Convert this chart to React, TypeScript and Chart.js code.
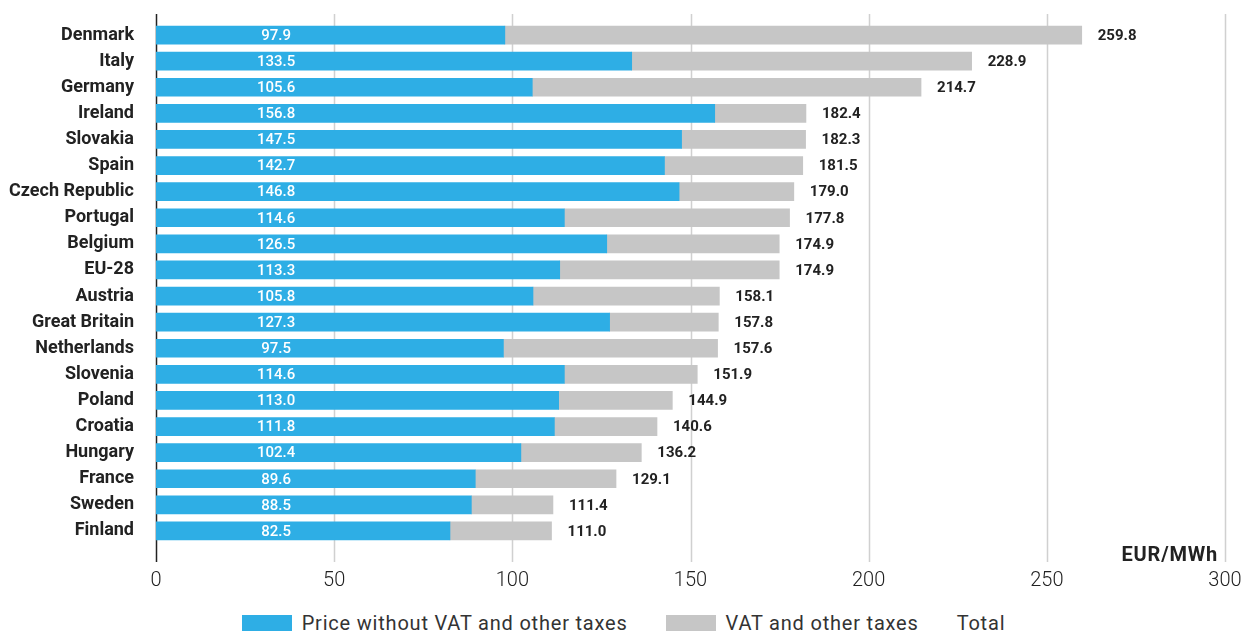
import React, { useEffect, useRef } from "react";
import { Chart, registerables } from "chart.js";

Chart.register(...registerables);

const countries = [
  "Denmark", "Italy", "Germany", "Ireland", "Slovakia", "Spain", "Czech Republic", "Portugal",
  "Belgium", "EU-28", "Austria", "Great Britain", "Netherlands", "Slovenia", "Poland", "Croatia",
  "Hungary", "France", "Sweden", "Finland",
];
const basePrice = [97.9, 133.5, 105.6, 156.8, 147.5, 142.7, 146.8, 114.6, 126.5, 113.3, 105.8, 127.3, 97.5, 114.6, 113.0, 111.8, 102.4, 89.6, 88.5, 82.5];
const totalPrice = [259.8, 228.9, 214.7, 182.4, 182.3, 181.5, 179.0, 177.8, 174.9, 174.9, 158.1, 157.8, 157.6, 151.9, 144.9, 140.6, 136.2, 129.1, 111.4, 111.0];
const taxes = totalPrice.map((t, i) => Math.round((t - basePrice[i]) * 10) / 10);
const xTicks = [0, 50, 100, 150, 200, 250, 300];
const seriesNames = ["Price without VAT and other taxes", "VAT and other taxes", "Total"];
const unitLabel = "EUR/MWh";

const BLUE = "#2eaee5";
const GRAY = "#c6c6c6";
const FONT = "Roboto, 'Noto Sans', sans-serif";

const decorPlugin = {
  id: "decor",
  beforeDatasetsDraw(chart: any) {
    const { ctx, chartArea, scales } = chart;
    const x = scales.x;
    const top = chartArea.top - 8;
    const bottom = chartArea.bottom + 18;
    ctx.save();
    xTicks.forEach((v) => {
      const px = Math.round(x.getPixelForValue(v)) + 0.5;
      ctx.beginPath();
      ctx.strokeStyle = v === 0 ? "#222222" : "#d0d0d0";
      ctx.lineWidth = 1.5;
      ctx.moveTo(px, top);
      ctx.lineTo(px, bottom);
      ctx.stroke();
    });
    ctx.restore();
  },
  afterDatasetsDraw(chart: any) {
    const { ctx, chartArea, scales } = chart;
    const x = scales.x;
    const y = scales.y;
    ctx.save();
    ctx.textBaseline = "middle";
    countries.forEach((_, i) => {
      const py = y.getPixelForValue(i);
      ctx.fillStyle = "#ffffff";
      ctx.font = `500 15px ${FONT}`;
      ctx.textAlign = "center";
      ctx.fillText(basePrice[i].toFixed(1), x.getPixelForValue(33.7), py + 1);
      ctx.fillStyle = "#222222";
      ctx.font = `bold 15px ${FONT}`;
      ctx.textAlign = "left";
      ctx.fillText(totalPrice[i].toFixed(1), x.getPixelForValue(totalPrice[i]) + 16, py + 1);
    });
    ctx.fillStyle = "#222222";
    ctx.font = `bold 20px ${FONT}`;
    (ctx as any).letterSpacing = "0.8px";
    ctx.textAlign = "right";
    ctx.fillText(unitLabel, chartArea.right - 7, chartArea.bottom + 12);
    ctx.restore();
  },
};

export default function App() {
  const ref = useRef<HTMLCanvasElement | null>(null);
  useEffect(() => {
    if (!ref.current) return;
    const chart = new Chart(ref.current, {
      type: "bar",
      data: {
        labels: countries,
        datasets: [
          { label: seriesNames[0], data: basePrice, backgroundColor: BLUE, barThickness: 18, stack: "s" },
          { label: seriesNames[1], data: taxes, backgroundColor: GRAY, barThickness: 18, stack: "s" },
        ],
      },
      options: {
        indexAxis: "y",
        animation: false,
        responsive: false,
        maintainAspectRatio: false,
        layout: { padding: { top: 22, right: 22, left: 0, bottom: 0 } },
        plugins: { legend: { display: false }, tooltip: { enabled: false } },
        scales: {
          x: {
            type: "linear",
            min: 0,
            max: 300,
            stacked: true,
            afterBuildTicks: (s: any) => { s.ticks = xTicks.map((v) => ({ value: v })); },
            afterFit: (s: any) => { s.height = 56; s.paddingLeft = 0; s.paddingRight = 0; s.paddingTop = 0; s.paddingBottom = 0; },
            grid: { display: false, drawTicks: false },
            border: { display: false },
            ticks: { color: "#222222", font: { family: FONT, size: 20, weight: "300" }, padding: 25, maxRotation: 0 },
          },
          y: {
            stacked: true,
            afterFit: (s: any) => { s.width = 156; s.paddingLeft = 0; s.paddingRight = 0; s.paddingTop = 0; s.paddingBottom = 0; },
            grid: { display: false, drawTicks: false },
            border: { display: false },
            ticks: { color: "#222222", font: { family: FONT, size: 18, weight: "bold" }, padding: 22, autoSkip: false },
          },
        },
      },
      plugins: [decorPlugin],
    });
    return () => chart.destroy();
  }, []);

  const legendText: React.CSSProperties = { fontFamily: FONT, fontSize: 20, letterSpacing: "0.8px", color: "#333333", whiteSpace: "nowrap", lineHeight: "20px" };
  const box = (c: string): React.CSSProperties => ({ width: 50, height: 16, background: c, marginRight: 10 });

  return (
    <div style={{ position: "fixed", left: 0, top: 0, width: 1247, height: 631, background: "#ffffff", overflow: "hidden" }}>
      <canvas ref={ref} width={1247} height={600} style={{ display: "block", width: 1247, height: 600 }} />
      <div style={{ position: "absolute", left: 0, top: 613, width: 1247, display: "flex", justifyContent: "center", alignItems: "center" }}>
        <div style={{ display: "flex", alignItems: "center", marginRight: 38 }}>
          <div style={box(BLUE)} />
          <span style={legendText}>{seriesNames[0]}</span>
        </div>
        <div style={{ display: "flex", alignItems: "center", marginRight: 38 }}>
          <div style={box(GRAY)} />
          <span style={legendText}>{seriesNames[1]}</span>
        </div>
        <div style={{ display: "flex", alignItems: "center" }}>
          <span style={legendText}>{seriesNames[2]}</span>
        </div>
      </div>
    </div>
  );
}
